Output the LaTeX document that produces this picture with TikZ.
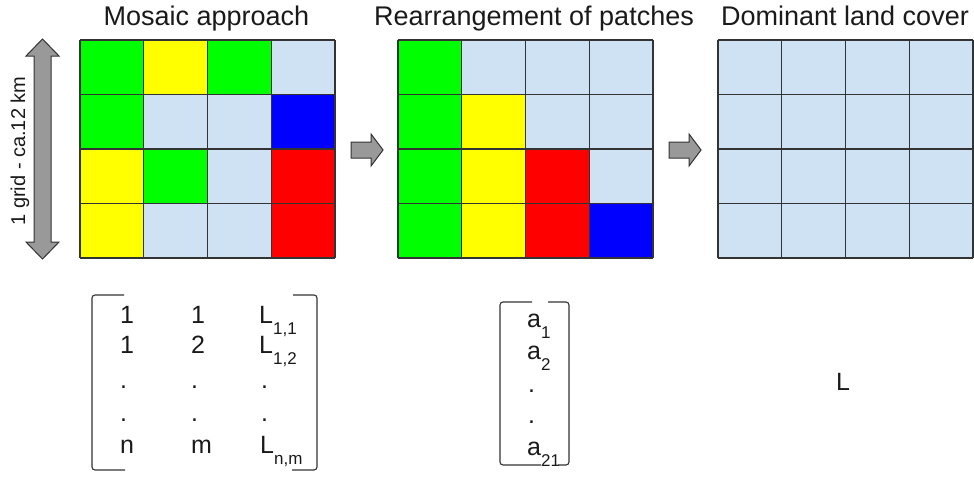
\documentclass[tikz,border=0pt]{standalone}
\usepackage{fontspec}
\setmainfont{Liberation Sans}
\definecolor{lb}{HTML}{CFE2F3}
\definecolor{gr}{HTML}{00FF00}
\definecolor{ye}{HTML}{FFFF00}
\definecolor{bl}{HTML}{0000FF}
\definecolor{rd}{HTML}{FF0000}
\definecolor{edgec}{HTML}{333333}
\definecolor{arrc}{HTML}{999999}
\definecolor{txt}{HTML}{1A1A1A}
\newcommand{\sbs}[1]{\raisebox{-11pt}{\fontsize{17}{17}\selectfont #1}}
\begin{document}
\begin{tikzpicture}[x=1pt,y=-1pt,
  gridline/.style={draw=edgec, line width=1.3pt},
  blockarrow/.style={draw=edgec, fill=arrc, line width=1pt, line join=miter},
  bracketline/.style={draw=edgec, line width=1.1pt, rounded corners=3pt},
  titletext/.style={font=\fontsize{27}{31}\selectfont, text=txt, anchor=base, inner sep=0pt},
  entry/.style={font=\fontsize{25}{28}\selectfont, text=txt, anchor=base west, inner sep=0pt},
  gridnode/.style={inner sep=0pt, minimum width=255pt, minimum height=218pt}]
\useasboundingbox (0,0) rectangle (974,477);
\fill[white] (0,0) rectangle (974,477);

% grid 1
\begin{scope}[shift={(80,40)}]
  \foreach \c [count=\i from 0] in {gr,ye,gr,lb, gr,lb,lb,bl, ye,gr,lb,rd, ye,lb,lb,rd} {
    \pgfmathsetmacro\cx{mod(\i,4)*63.75}
    \pgfmathsetmacro\cy{int(\i/4)*54.5}
    \fill[\c] (\cx,\cy) rectangle ++(63.75,54.5);
  }
  \foreach \k in {0,...,4} {
    \draw[gridline] (\k*63.75,0) -- (\k*63.75,218);
    \draw[gridline] (0,\k*54.5) -- (255,\k*54.5);
  }
\end{scope}
\node[gridnode] (g1) at (207.5,149) {};

% grid 2
\begin{scope}[shift={(398,40)}]
  \foreach \c [count=\i from 0] in {gr,lb,lb,lb, gr,ye,lb,lb, gr,ye,rd,lb, gr,ye,rd,bl} {
    \pgfmathsetmacro\cx{mod(\i,4)*63.75}
    \pgfmathsetmacro\cy{int(\i/4)*54.5}
    \fill[\c] (\cx,\cy) rectangle ++(63.75,54.5);
  }
  \foreach \k in {0,...,4} {
    \draw[gridline] (\k*63.75,0) -- (\k*63.75,218);
    \draw[gridline] (0,\k*54.5) -- (255,\k*54.5);
  }
\end{scope}
\node[gridnode] (g2) at (525.5,149) {};

% grid 3
\begin{scope}[shift={(718,40)}]
  \fill[lb] (0,0) rectangle (255,218);
  \foreach \k in {0,...,4} {
    \draw[gridline] (\k*63.75,0) -- (\k*63.75,218);
    \draw[gridline] (0,\k*54.5) -- (255,\k*54.5);
  }
\end{scope}
\node[gridnode] (g3) at (845.5,149) {};

% titles
\node[titletext] (t1) at (206.5,25) {Mosaic approach};
\node[titletext] (t2) at (534,25) {Rearrangement of patches};
\node[titletext] (t3) at (845,25) {Dominant land cover};

% block arrows between grids
\coordinate (a1) at (351,150);
\coordinate (a2) at (669,150);
\foreach \p in {a1,a2} {
  \draw[blockarrow, shift={(\p)}] (0,-8) -- (20,-8) -- (20,-16) -- (32,0) -- (20,16) -- (20,8) -- (0,8) -- cycle;
}

% vertical double arrow
\draw[blockarrow] (42.5,39) -- (59,56) -- (51,56) -- (51,242) -- (59,242) -- (42.5,259) -- (26,242) -- (34,242) -- (34,56) -- (26,56) -- cycle;
\node[rotate=90, anchor=base, inner sep=0pt, text=txt, font=\fontsize{20}{24}\selectfont] (lab) at (25,151) {1 grid - ca.12 km};

% matrix 1
\node[entry] (m11) at (120,323) {1};
\node[entry] (m12) at (191,323) {1};
\node[entry] (m13) at (259,323) {L\sbs{1,1}};
\node[entry] (m21) at (120,353) {1};
\node[entry] (m22) at (191,353) {2};
\node[entry] (m23) at (259,353) {L\sbs{1,2}};
\node[entry] (m31) at (120,388) {.};
\node[entry] (m32) at (191,388) {.};
\node[entry] (m33) at (261,388) {.};
\node[entry] (m41) at (120,421) {.};
\node[entry] (m42) at (191,421) {.};
\node[entry] (m43) at (261,421) {.};
\node[entry] (m51) at (120,453) {n};
\node[entry] (m52) at (191,453) {m};
\node[entry] (m53) at (260,453) {L\sbs{n,m}};
\draw[bracketline] (124,295) -- (92,295) -- (92,470) -- (125,470);
\draw[bracketline] (293,295) -- (317,295) -- (317,470) -- (292,470);

% matrix 2
\node[entry] (v1) at (527,327) {a\sbs{1}};
\node[entry] (v2) at (527,359) {a\sbs{2}};
\node[entry] (v3) at (528,392) {.};
\node[entry] (v4) at (528,423) {.};
\node[entry] (v5) at (527,455) {a\sbs{21}};
\draw[bracketline] (532,302) -- (500,302) -- (500,465) -- (541,465);
\draw[bracketline] (548,302) -- (569,302) -- (569,465) -- (558,465);

% dominant label
\node[entry, font=\fontsize{25}{28}\selectfont] (Lbig) at (836,390) {L};
\end{tikzpicture}
\end{document}
